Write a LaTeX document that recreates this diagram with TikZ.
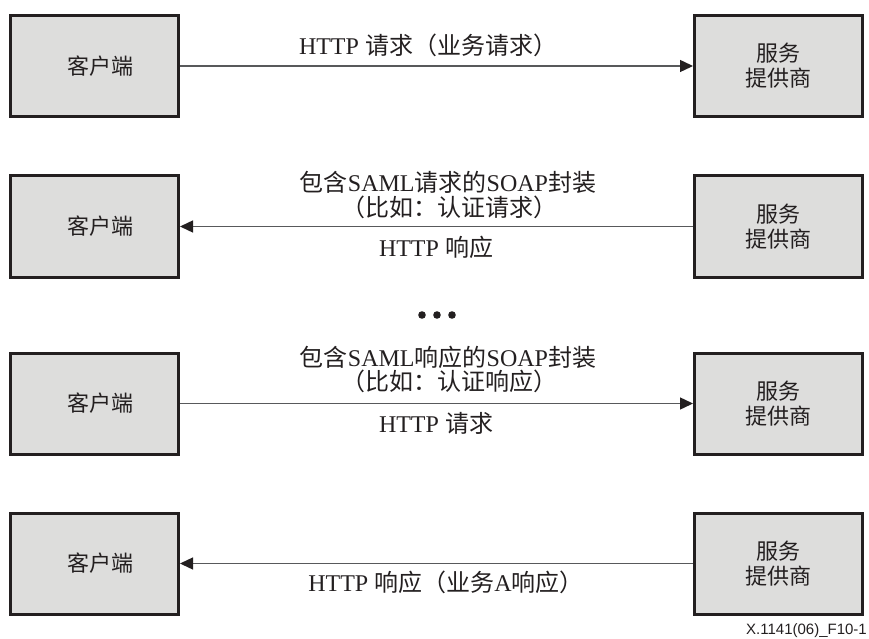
\documentclass[tikz,border=0pt]{standalone}
\usepackage{fontspec}
\setmainfont{Liberation Serif}
\newfontfamily\cjk{Noto Sans CJK SC}
\newfontfamily\figsans{Liberation Sans}
\usetikzlibrary{arrows.meta}
\definecolor{boxfill}{HTML}{DDDDDC}
\definecolor{boxline}{HTML}{231F20}
\definecolor{wire}{HTML}{58595B}
\definecolor{ink}{HTML}{231F20}
\newcommand\zhtext[1]{{\cjk #1}}

\begin{document}
\begin{tikzpicture}[x=1pt,y=-1pt,
  party/.style={draw=boxline, line width=3pt, fill=boxfill,
    minimum width=168pt, minimum height=101pt, inner sep=0pt,
    font=\cjk\fontsize{22}{25}\selectfont, text=ink, align=center},
  msg/.style={draw=wire, line width=1.4pt,
    -{Triangle[length=13pt,width=12pt,color=boxline]}},
  lbl/.style={font=\fontsize{24}{27}\selectfont, text=ink, inner sep=0pt}]
\useasboundingbox (0,0) rectangle (869,639);

% client and service provider pairs, one per exchange
\node[party] (c1) at (94.5,66)    {\hspace*{12pt}客户端};
\node[party] (s1) at (778.5,66)   {服务\\提供商};
\node[party] (c2) at (94.5,226.5) {\hspace*{12pt}客户端};
\node[party] (s2) at (778.5,226.5){服务\\提供商};
\node[party] (c3) at (94.5,403.5) {\hspace*{12pt}客户端};
\node[party] (s3) at (778.5,403.5){服务\\提供商};
\node[party] (c4) at (94.5,563.5) {\hspace*{12pt}客户端};
\node[party] (s4) at (778.5,563.5){服务\\提供商};

% messages
\draw[msg] (c1) -- (s1);
\draw[msg] (s2) -- (c2);
\draw[msg] (c3) -- (s3);
\draw[msg] (s4) -- (c4);

% message labels
\node[lbl] (t1)  at (428,45)  {HTTP \zhtext{请求（业务请求）}};
\node[lbl] (t2a) at (448,182) {\zhtext{包含}SAML\zhtext{请求的}SOAP\zhtext{封装}};
\node[lbl] (t2b) at (449,207) {\zhtext{（比如：认证请求）}};
\node[lbl] (t2c) at (436,247) {HTTP \zhtext{响应}};
\node[lbl] (t3a) at (448,357) {\zhtext{包含}SAML\zhtext{响应的}SOAP\zhtext{封装}};
\node[lbl] (t3b) at (449,381) {\zhtext{（比如：认证响应）}};
\node[lbl] (t3c) at (436,423) {HTTP \zhtext{请求}};
\node[lbl] (t4)  at (446,582) {HTTP \zhtext{响应（业务}A\zhtext{响应）}};

% ellipsis between the exchanges
\foreach \x in {422,437,452} \fill[ink] (\x,315) circle (3.8pt);

% figure number
\node[anchor=base east, inner sep=0pt, text=ink,
  font=\figsans\fontsize{15}{15}\selectfont] (fig) at (867,634) {X.1141(06)\_F10-1};
\end{tikzpicture}
\end{document}
